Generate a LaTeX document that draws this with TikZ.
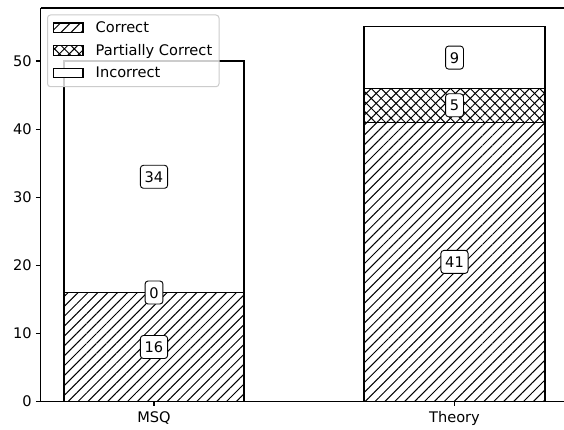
\documentclass[tikz,border=0pt]{standalone}
\usepackage{fontspec}
\setmainfont{DejaVu Sans}
\usetikzlibrary{patterns.meta}
\tikzset{
  bar/.style={draw=black, line width=1.1pt, fill=white},
  hatchA/.style={pattern={Lines[angle=45,distance=7pt,line width=1pt]}},
  hatchB/.style={pattern={Lines[angle=-45,distance=7pt,line width=1pt]}},
  vlabel/.style={draw=black, fill=white, rounded corners=3pt, line width=0.9pt,
    inner xsep=4.3pt, inner ysep=0pt, minimum height=23pt, text height=11pt, text depth=0pt,
    font=\fontsize{14.6}{17}\selectfont},
  ticklab/.style={font=\fontsize{14.6}{17}\selectfont, inner sep=0pt},
  spine/.style={line width=1.1pt, draw=black},
}
\begin{document}
\begin{tikzpicture}[x=1pt,y=-1pt]
\useasboundingbox (0,0) rectangle (564,430);
% bars: y(v) = 401.5 - 6.81 v
% MSQ
\path[bar] (64,401.5) rectangle (244,292.5);
\path[hatchA] (64,401.5) rectangle (244,292.5);
\draw[line width=1.1pt] (64,401.5) rectangle (244,292.5);
\path[bar] (64,292.5) rectangle (244,61.0);
% Theory
\path[bar] (364,401.5) rectangle (545,122.3);
\path[hatchA] (364,401.5) rectangle (545,122.3);
\draw[line width=1.1pt] (364,401.5) rectangle (545,122.3);
\path[bar] (364,122.3) rectangle (545,88.2);
\path[hatchA] (364,122.3) rectangle (545,88.2);
\path[hatchB] (364,122.3) rectangle (545,88.2);
\draw[line width=1.1pt] (364,122.3) rectangle (545,88.2);
\path[bar] (364,88.2) rectangle (545,26.95);
% value labels
\node[vlabel] (l16) at (154,347.0) {16};
\node[vlabel] (l0) at (154,292.5) {0};
\node[vlabel] (l34) at (154,176.8) {34};
\node[vlabel] (l41) at (454.5,261.9) {41};
\node[vlabel] (l5) at (454.5,105.3) {5};
\node[vlabel] (l9) at (454.5,57.6) {9};
% axes
\draw[spine] (40.7,8) -- (40.7,401.5) -- (566,401.5);
\draw[spine] (40.7,8) -- (566,8) -- (566,401.5);
% y ticks
\foreach \v/\yy in {0/401.5,10/333.4,20/265.3,30/197.2,40/129.1,50/61.0}{
  \draw[line width=1.1pt] (35.8,\yy) -- (40.7,\yy);
  \node[ticklab, anchor=east] (yt\v) at (31.8,\yy) {\v};
}
% x ticks
\draw[line width=1.1pt] (154,401.5) -- (154,406.4);
\draw[line width=1.1pt] (454.5,401.5) -- (454.5,406.4);
\node[ticklab, anchor=base] (xmsq) at (154,422.5) {MSQ};
\node[ticklab, anchor=base] (xth) at (454.5,422.5) {Theory};
% legend
\path[draw=black!20, fill=white, fill opacity=0.8, rounded corners=3pt, line width=1pt] (47.5,15) rectangle (219,86.7);
\path[fill=white] (53.5,23) rectangle (83,32.6);
\path[hatchA] (53.5,23) rectangle (83,32.6);
\draw[line width=1.1pt] (53.5,23) rectangle (83,32.6);
\path[fill=white] (53.5,45.6) rectangle (83,55.2);
\path[hatchA] (53.5,45.6) rectangle (83,55.2);
\path[hatchB] (53.5,45.6) rectangle (83,55.2);
\draw[line width=1.1pt] (53.5,45.6) rectangle (83,55.2);
\draw[line width=1.1pt, fill=white] (53.5,68.1) rectangle (83,77.7);
\node[ticklab, anchor=base west] (lg1) at (95.5,32.8) {Correct};
\node[ticklab, anchor=base west] (lg2) at (95.5,55.3) {Partially Correct};
\node[ticklab, anchor=base west] (lg3) at (95.5,77.8) {Incorrect};
\end{tikzpicture}
\end{document}
